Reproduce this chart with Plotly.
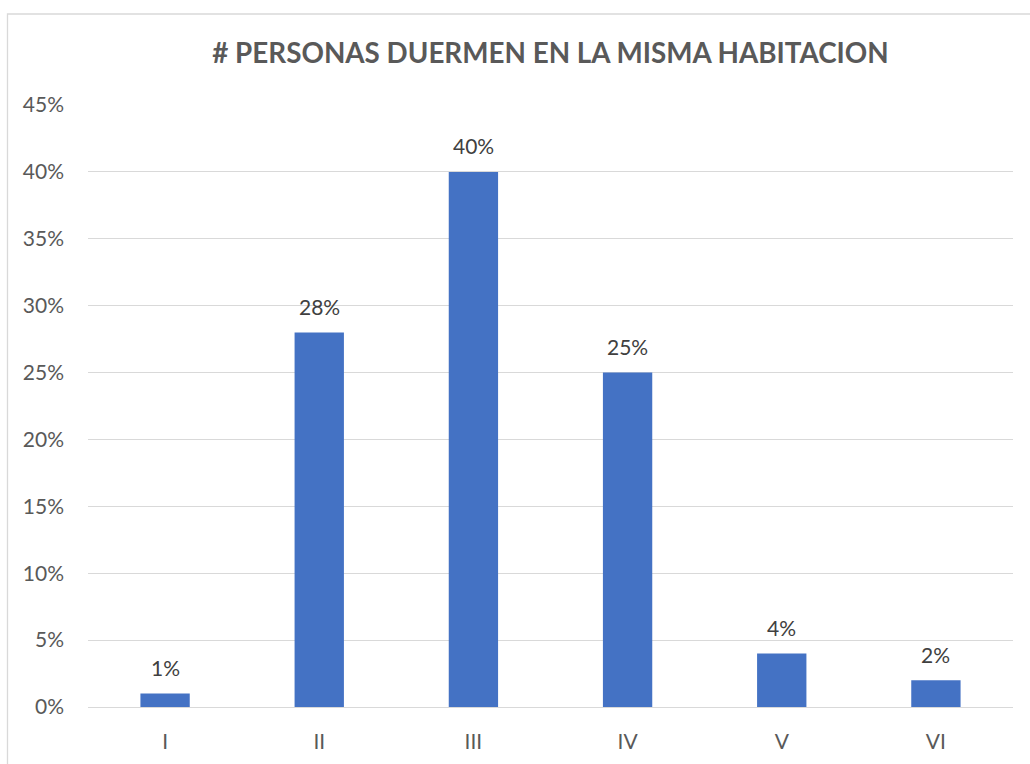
import plotly.graph_objects as go

categories = ["I", "II", "III", "IV", "V", "VI"]
values = [0.01, 0.28, 0.40, 0.25, 0.04, 0.02]
labels = ["1%", "28%", "40%", "25%", "4%", "2%"]
y_ticks = [0, 0.05, 0.10, 0.15, 0.20, 0.25, 0.30, 0.35, 0.40, 0.45]
y_tick_text = ["0%", "5%", "10%", "15%", "20%", "25%", "30%", "35%", "40%", "45%"]
title = "# PERSONAS DUERMEN EN LA MISMA HABITACION"

W, H = 1030, 764
L, R, T, B = 88, 17, 105, 57
pw, ph = W - L - R, H - T - B
FONT = "Lato, Calibri, sans-serif"

def px_x(x):
    return (x - L) / pw

def px_y(y):
    return (H - B - y) / ph

fig = go.Figure(go.Bar(
    x=categories, y=values,
    marker=dict(color="#4472C4", line=dict(width=0)),
    hoverinfo="x+y",
))

for c, v, t in zip(categories, values, labels):
    fig.add_annotation(x=c, y=v, text=t, showarrow=False,
                       xanchor="center", yanchor="middle", yshift=26,
                       font=dict(family=FONT, size=21, color="#404040"))

fig.update_layout(
    width=W, height=H,
    margin=dict(l=L, r=R, t=T, b=B),
    paper_bgcolor="white", plot_bgcolor="white",
    bargap=0.68,
    showlegend=False,
    font=dict(family=FONT, color="#595959"),
    title=dict(text="<b>" + title + "</b>", x=0.5, xanchor="center", xref="paper",
               y=1 - 53 / H, yanchor="middle",
               font=dict(size=27.8, color="#595959")),
    xaxis=dict(showgrid=False, showline=False, zeroline=False, ticks="",
               tickfont=dict(size=21, color="#595959"), ticklabelstandoff=20),
    yaxis=dict(range=[0, 0.45], tickvals=y_ticks, ticktext=y_tick_text,
               showgrid=True, gridcolor="#d9d9d9", gridwidth=1.3,
               zeroline=True, zerolinecolor="#d9d9d9", zerolinewidth=1.3,
               showline=False, ticks="",
               tickfont=dict(size=21, color="#595959"), ticklabelstandoff=23),
    shapes=[dict(type="rect", xref="paper", yref="paper",
                 x0=px_x(7.5), x1=px_x(1032), y0=px_y(770), y1=px_y(14),
                 line=dict(color="#d9d9d9", width=1.3), fillcolor="rgba(0,0,0,0)",
                 layer="below")],
)

fig.write_html("out.html", config={"displayModeBar": False},
               post_script="document.body.style.margin='0';")
